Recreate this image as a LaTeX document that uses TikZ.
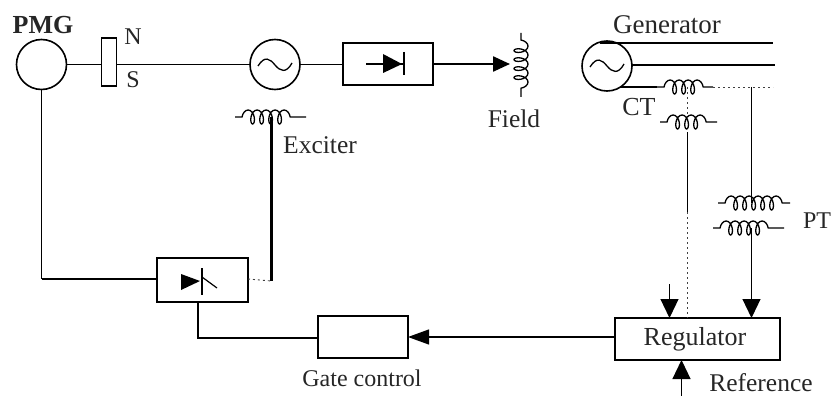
\documentclass[tikz,border=0pt]{standalone}
\usepackage{fontspec}
\setmainfont{Liberation Serif}
\usetikzlibrary{arrows.meta,decorations.pathmorphing}
\tikzset{
  x=1pt,y=-1pt,
  every node/.style={inner sep=0pt,outer sep=0pt},
  lbl/.style={font=\fontsize{#1}{#1}\selectfont,text=black!85},
  lbl/.default=24,
  mach/.style={circle,draw,line width=1.6pt,minimum size=50pt},
  blockbox/.style={draw,line width=1.5pt,fill=white,minimum width=#1},
  wire/.style={line width=1.2pt},
  hwire/.style={line width=2.4pt},
  tipw/.style={-{Triangle[length=19pt,width=18pt]},line width=1.2pt},
  winding/.style={line width=1.3pt,decorate,decoration={coil,aspect=0.55,segment length=9pt,amplitude=7pt,pre length=7pt,post length=7pt}},
  faint/.style={line width=.9pt,dash pattern=on 2pt off 3pt,black!75},
  wave/.style={line width=1.3pt}
}
\begin{document}
\begin{tikzpicture}
\useasboundingbox (0,0) rectangle (833,396);
% machines
\node[mach] (pmg) at (41.5,64.5) {};
\node[mach] (exc) at (275,64.5) {};
\node[mach] (gen) at (607,66) {};
\draw[wave] (258,66) .. controls (265,55) and (270,59) .. (275,65) .. controls (280,71) and (286,74) .. (292,63);
\draw[wave] (590,67) .. controls (597,56) and (602,60) .. (607,66) .. controls (612,72) and (618,75) .. (624,64);
% blocks
\node[blockbox=15pt,minimum height=48pt] (mag) at (109,62) {};
\node[blockbox=90pt,minimum height=42pt] (rect) at (388,64) {};
\node[blockbox=91pt,minimum height=44pt] (thy) at (202.5,280) {};
\node[blockbox=90pt,minimum height=42pt] (gate) at (363,337) {};
\node[blockbox=165pt,minimum height=42pt] (reg) at (697.5,339) {};
% coordinates
\coordinate (fieldin) at (510,64);
\coordinate (fa) at (521,33);
\coordinate (fb) at (521,97);
\coordinate (exa) at (235,117);
\coordinate (exb) at (306,117);
\coordinate (ct1a) at (657,87);
\coordinate (ct1b) at (713,87);
\coordinate (ct2a) at (660,122);
\coordinate (ct2b) at (717,122);
\coordinate (pt1a) at (718,203);
\coordinate (pt1b) at (790,203);
\coordinate (pt2a) at (713,228);
\coordinate (pt2b) at (784,228);
\coordinate (gtop) at (600,43);
\coordinate (gtopr) at (773,43);
\coordinate (gmidr) at (775,65);
\coordinate (gbotl) at (620,87);
\coordinate (gbotr) at (773,87);
\coordinate (ctout) at (687.5,132);
\coordinate (ctsolid) at (687.5,212);
\coordinate (ptup) at (751.5,87);
\coordinate (ptin) at (751.5,203);
\coordinate (ptout) at (751.5,228);
\coordinate (extra) at (669.5,284);
\coordinate (refin) at (681.5,396);
\coordinate (tapx) at (271.5,117);
\coordinate (tapy) at (271.5,281);
\coordinate (gatebend) at (198,338);
\coordinate (pmgcorner) at (41.5,279);
% windings
\draw[winding] (fa) -- (fb);
\draw[winding] (exa) -- (exb);
\draw[winding] (ct1a) -- (ct1b);
\draw[winding] (ct2a) -- (ct2b);
\draw[winding] (pt1a) -- (pt1b);
\draw[winding] (pt2a) -- (pt2b);
% rotor line
\draw[wire] (pmg.east) -- (pmg -| mag.west);
\draw[wire] (mag.east |- pmg) -- (exc.west);
\draw[wire] (exc.east) -- (exc -| rect.west);
\draw[hwire,-{Triangle[length=17pt,width=15pt]}] (rect.east |- fieldin) -- (fieldin);
% diode
\coordinate (da) at (366,64);
\coordinate (db) at (404,64);
\draw[wire] (da) -- (db);
\fill (383,54) -- (383,73) -- (402,64) -- cycle;
\draw[line width=1.7pt] (404,52) -- (404,75);
% thyristor
\fill (181,274) -- (181,290) -- (200,281) -- cycle;
\draw[wire] (202,268) -- (202,295);
\draw[wire] (202,277) -- (217,288);
% generator
\draw[hwire] (gtop) -- (gtopr);
\draw[line width=1.5pt] (gen.east |- gmidr) -- (gmidr);
\draw[wire] (gbotl) -- (ct1a);
\draw[faint] (ct1b) -- (gbotr);
\draw[faint] (ct1a -| ctout) -- (ctout |- ct2a);
% connectors
\draw[wire] (ctout) -- (ctsolid);
\draw[faint] (ctsolid) -- (reg.north -| ctout);
\draw[wire] (ptup) -- (ptin);
\draw[tipw] (ptout) -- (reg.north -| ptout);
\draw[tipw] (extra) -- (reg.north -| extra);
\draw[tipw] (refin) -- (reg.south -| refin);
\draw[wire,-{Triangle[length=21pt,width=15pt]}] (reg.west |- gate) -- (gate.east);
\draw[wire] (gate.west |- gatebend) -- (gatebend) -- (thy.south -| gatebend);
\draw[wire] (pmg.south) -- (pmgcorner);
\draw[hwire] (pmgcorner) -- (thy.west |- pmgcorner);
\draw[faint] (thy.east |- pmgcorner) -- (tapy);
\draw[line width=2.8pt] (tapy) -- (tapx);
% labels
\node[lbl,font=\fontsize{26}{28}\bfseries\selectfont] (lpmg) at (43,25) {PMG};
\node[lbl] (ln) at (133,37) {N};
\node[lbl] (ls) at (133,80) {S};
\node[lbl=25.5] (lex) at (320,145) {Exciter};
\node[lbl=25.5] (lfield) at (514,119) {Field};
\node[lbl=27] (lgen) at (667,25) {Generator};
\node[lbl=26] (lct) at (639,107) {CT};
\node[lbl] (lpt) at (817,221) {PT};
\node[lbl=26] (lreg) at (695,339) {Regulator};
\node[lbl=25.5] (lref) at (761,383) {Reference};
\node[lbl] (lgate) at (362,378) {Gate control};
\end{tikzpicture}
\end{document}
